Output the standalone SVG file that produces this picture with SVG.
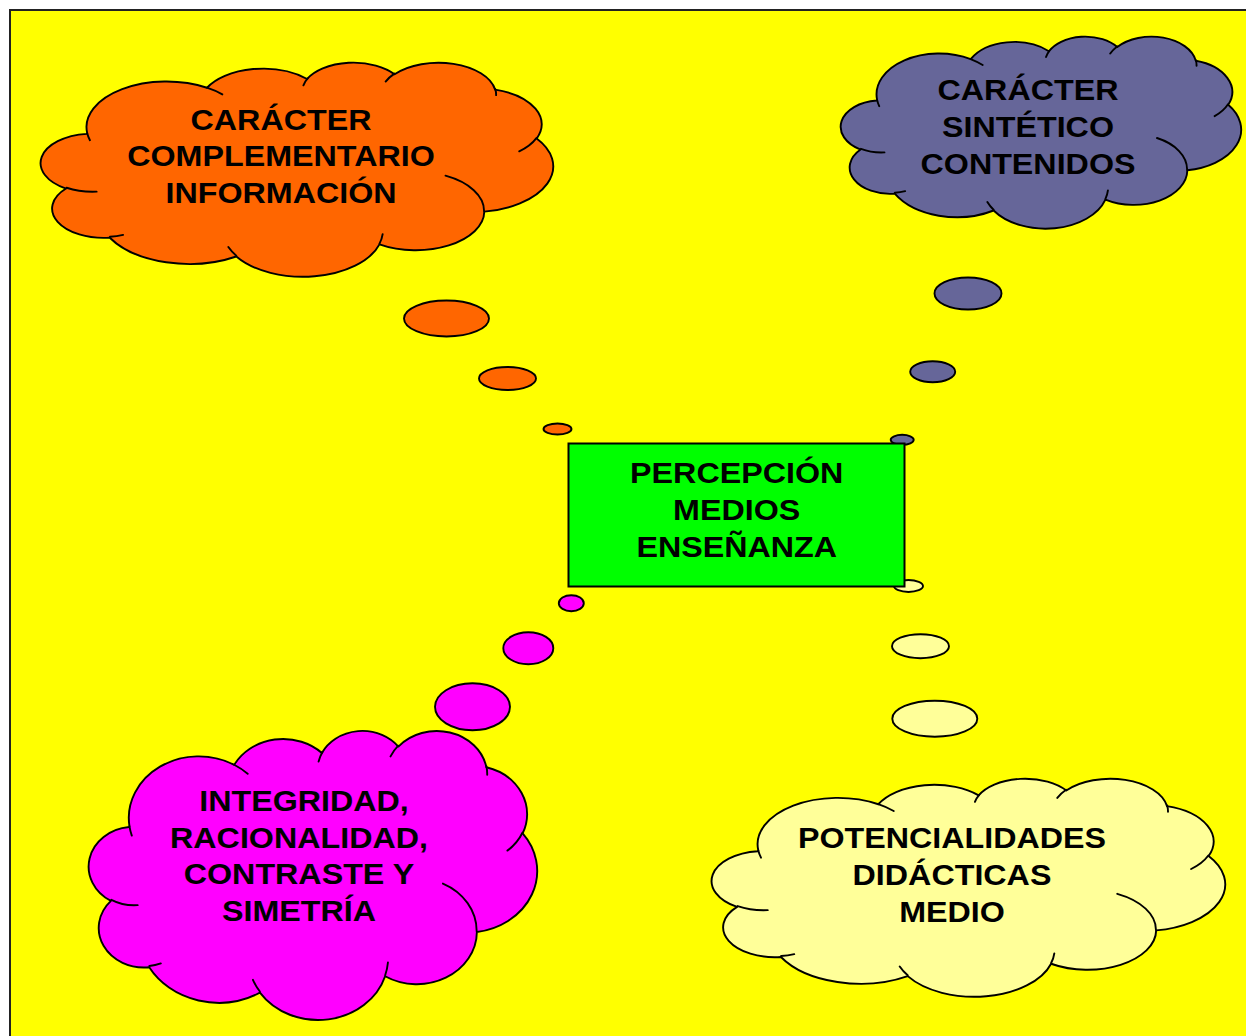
<svg xmlns="http://www.w3.org/2000/svg" xmlns:xlink="http://www.w3.org/1999/xlink" width="1246" height="1036" viewBox="0 0 1246 1036">
  <style>
    .cloud { stroke: #000; stroke-width: 1.9; stroke-linejoin: round; }
    .fold { fill: none; stroke: #000; stroke-width: 1.9; stroke-linecap: round; }
    .bubble { stroke: #000; stroke-width: 1.9; }
    .label { font-family: "Liberation Sans", Arial, sans-serif; font-weight: bold; font-size: 28.8px; fill: #000; text-anchor: middle; }
  </style>
  <defs>
    <!-- Cloud outline on a 43200 x 43200 grid -->
    <path id="cloudOutline" vector-effect="non-scaling-stroke" d="M3900,14370 A6753,9190 0 0 1 14005,5202 A5333,7267 0 0 1 22457,3430 A4365,5945 0 0 1 29834,2477 A4857,6595 0 0 1 38319,5573 A5333,7273 0 0 1 41819,15457 A6775,9220 0 0 1 37404,30198 A5785,7867 0 0 1 28556,36808 A6752,9215 0 0 1 16482,39264 A7720,10543 0 0 1 5806,35469 A4360,5918 0 0 1 2113,25549 A4345,5945 0 0 1 3864,14506 Z"/>
    <!-- Inner fold lines of the cloud -->
    <path id="cloudFolds" vector-effect="non-scaling-stroke" d="M4693,26177 A4345,5945 0 0 1 2159,25380 M6928,34899 A4360,5918 0 0 1 5819,35281 M16478,39090 A6752,9215 0 0 1 15808,37346 M28827,34751 A6752,9215 0 0 1 28561,36659 M34129,22954 A5785,7867 0 0 1 37381,30090 M41798,15354 A5333,7273 0 0 1 40350,18030 M38324,5426 A4857,6595 0 0 1 38400,6690 M29078,3952 A4857,6595 0 0 1 29820,2339 M22141,4720 A4365,5945 0 0 1 22500,3330 M14000,5192 A6753,9190 0 0 1 15300,6541 M4127,15789 A6753,9190 0 0 1 3900,14371"/>
  </defs>

  <!-- page -->
  <rect x="0" y="0" width="1246" height="1036" fill="#fff"/>
  <rect x="10" y="10" width="1260" height="1060" fill="#ffff00" stroke="#222" stroke-width="2"/>

  <!-- thought-bubble trails -->
  <g id="connectors">
    <ellipse class="bubble" cx="446.5" cy="318.5" rx="42.5" ry="18" fill="#ff6600"/>
    <ellipse class="bubble" cx="507.5" cy="378.5" rx="28.5" ry="11.5" fill="#ff6600"/>
    <ellipse class="bubble" cx="557.5" cy="429" rx="14" ry="5.5" fill="#ff6600"/>

    <ellipse class="bubble" cx="968" cy="293.5" rx="33.5" ry="16" fill="#666699"/>
    <ellipse class="bubble" cx="932.7" cy="371.8" rx="22.5" ry="10.5" fill="#666699"/>
    <ellipse class="bubble" cx="902.2" cy="439.8" rx="11.5" ry="5" fill="#666699"/>

    <ellipse class="bubble" cx="571.3" cy="603.2" rx="12.5" ry="8" fill="#ff00ff"/>
    <ellipse class="bubble" cx="528.3" cy="648.2" rx="25" ry="16" fill="#ff00ff"/>
    <ellipse class="bubble" cx="472.5" cy="706.8" rx="37.5" ry="23.5" fill="#ff00ff"/>

    <ellipse class="bubble" cx="908.5" cy="586" rx="14.5" ry="6" fill="#ffff99"/>
    <ellipse class="bubble" cx="920.5" cy="646.2" rx="28.5" ry="12" fill="#ffff99"/>
    <ellipse class="bubble" cx="934.8" cy="718.7" rx="42.5" ry="18" fill="#ffff99"/>
  </g>

  <!-- central box -->
  <g id="percepcion">
    <rect x="568.5" y="443.5" width="336" height="143" fill="#00ff00" stroke="#000" stroke-width="2"/>
    <g transform="translate(736.7 0) scale(1.12 1)">
      <text class="label" x="0" y="483.5">PERCEPCIÓN</text>
      <text class="label" x="0" y="520.5">MEDIOS</text>
      <text class="label" x="0" y="557.5">ENSEÑANZA</text>
    </g>
  </g>

  <g id="caracter-complementario">
    <g transform="translate(41 62) scale(0.011852 0.0049537)" fill="#ff6600">
      <use xlink:href="#cloudOutline" class="cloud"/>
      <use xlink:href="#cloudFolds" class="fold"/>
    </g>
    <g transform="translate(281 0) scale(1.12 1)">
      <text class="label" x="0" y="130">CARÁCTER</text>
      <text class="label" x="0" y="166.5">COMPLEMENTARIO</text>
      <text class="label" x="0" y="203">INFORMACIÓN</text>
    </g>
  </g>

  <g id="caracter-sintetico">
    <g transform="translate(841 36) scale(0.0092593 0.0044444)" fill="#666699">
      <use xlink:href="#cloudOutline" class="cloud"/>
      <use xlink:href="#cloudFolds" class="fold"/>
    </g>
    <g transform="translate(1028 0) scale(1.12 1)">
      <text class="label" x="0" y="100.5">CARÁCTER</text>
      <text class="label" x="0" y="137.5">SINTÉTICO</text>
      <text class="label" x="0" y="174.5">CONTENIDOS</text>
    </g>
  </g>

  <g id="integridad">
    <g transform="translate(89 730) scale(0.010370 0.0066898)" fill="#ff00ff">
      <use xlink:href="#cloudOutline" class="cloud"/>
      <use xlink:href="#cloudFolds" class="fold"/>
    </g>
    <g transform="translate(299 0) scale(1.12 1)">
      <text class="label" x="4.5" y="811.5">INTEGRIDAD,</text>
      <text class="label" x="0" y="848">RACIONALIDAD,</text>
      <text class="label" x="0" y="884.5">CONTRASTE Y</text>
      <text class="label" x="0" y="921.5">SIMETRÍA</text>
    </g>
  </g>

  <g id="potencialidades">
    <g transform="translate(712 778) scale(0.011875 0.0050463)" fill="#ffff99">
      <use xlink:href="#cloudOutline" class="cloud"/>
      <use xlink:href="#cloudFolds" class="fold"/>
    </g>
    <g transform="translate(952 0) scale(1.12 1)">
      <text class="label" x="0" y="848">POTENCIALIDADES</text>
      <text class="label" x="0" y="885">DIDÁCTICAS</text>
      <text class="label" x="0" y="922">MEDIO</text>
    </g>
  </g>
</svg>
